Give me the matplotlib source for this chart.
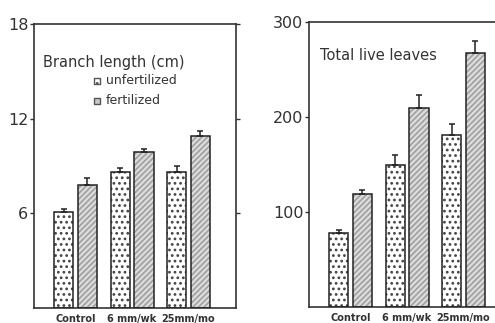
import matplotlib
matplotlib.use("Agg")
import matplotlib.pyplot as plt
import numpy as np

plt.rcParams['font.family'] = ['DejaVu Sans']
plt.rcParams['hatch.linewidth'] = 1.2

treatments = ["Control", "6 mm/wk", "25mm/mo"]

# branch length (cm), means and upper error
branch_unfert = [6.1, 8.65, 8.6]
branch_unfert_err = [0.2, 0.2, 0.4]
branch_fert = [7.8, 9.9, 10.9]
branch_fert_err = [0.45, 0.2, 0.3]

# total live leaves
leaves_unfert = [78, 149, 181]
leaves_unfert_err = [3, 11, 12]
leaves_fert = [119, 209, 267]
leaves_fert_err = [4, 14, 13]

x = np.arange(1, len(treatments) + 1)
w = 0.34
off = 0.21

fig = plt.figure(figsize=(4.95, 3.23), dpi=100)
ax1 = fig.add_axes([34/495, 15/323, 202/495, 284/323])
ax2 = fig.add_axes([309/495, 16/323, 202/495, 285/323])


def draw_panel(ax, unf, unf_err, fer, fer_err):
    # dotted bars
    ax.bar(x - off, unf, w, color='white', edgecolor='#444444',
           hatch='...', linewidth=0, zorder=2)
    ax.bar(x - off, unf, w, color='none', edgecolor='#222222',
           linewidth=1.1, zorder=3)
    # hatched bars
    ax.bar(x + off, fer, w, color='#dcdcdc', edgecolor='#a0a0a0',
           hatch='//////', linewidth=0, zorder=2)
    ax.bar(x + off, fer, w, color='none', edgecolor='#222222',
           linewidth=1.1, zorder=3)
    ax.errorbar(x - off, unf, yerr=[np.zeros(len(unf)), unf_err],
                fmt='none', ecolor='#222222', elinewidth=1.1, capsize=2.5,
                capthick=1.1, zorder=4)
    ax.errorbar(x + off, fer, yerr=[np.zeros(len(fer)), fer_err],
                fmt='none', ecolor='#222222', elinewidth=1.1, capsize=2.5,
                capthick=1.1, zorder=4)
    ax.set_xlim(0.265, 3.84)
    ax.set_xticks(x)
    ax.set_xticklabels(treatments, fontsize=7, fontweight='bold',
                       color='#333333')
    ax.tick_params(axis='x', length=0, pad=4)
    ax.tick_params(axis='y', direction='out', length=3, width=1,
                   labelsize=11.5, colors='#333333', pad=1)
    for s in ax.spines.values():
        s.set_linewidth(1.2)
        s.set_color('#333333')


draw_panel(ax1, branch_unfert, branch_unfert_err, branch_fert, branch_fert_err)
ax1.set_ylim(0, 18)
ax1.set_yticks([6, 12, 18])
ax1.tick_params(axis='y', right=True)
ax1.text(0.045, 0.866, "Branch length (cm)", transform=ax1.transAxes,
         fontsize=10.5, color='#333333', va='center')
ax1.scatter([0.31], [0.80], s=20, marker='s', facecolor='white',
            edgecolor='#555555', hatch='...', transform=ax1.transAxes)
ax1.scatter([0.31], [0.73], s=20, marker='s', facecolor='#c8c8c8',
            edgecolor='#555555', transform=ax1.transAxes)
ax1.text(0.355, 0.80, "unfertilized", transform=ax1.transAxes,
         fontsize=9, color='#333333', va='center')
ax1.text(0.355, 0.73, "fertilized", transform=ax1.transAxes,
         fontsize=9, color='#333333', va='center')

draw_panel(ax2, leaves_unfert, leaves_unfert_err, leaves_fert, leaves_fert_err)
ax2.set_ylim(0, 300)
ax2.set_yticks([100, 200, 300])
ax2.text(0.054, 0.884, "Total live leaves", transform=ax2.transAxes,
         fontsize=10.5, color='#333333', va='center')

fig.savefig("out.png", dpi=100)
